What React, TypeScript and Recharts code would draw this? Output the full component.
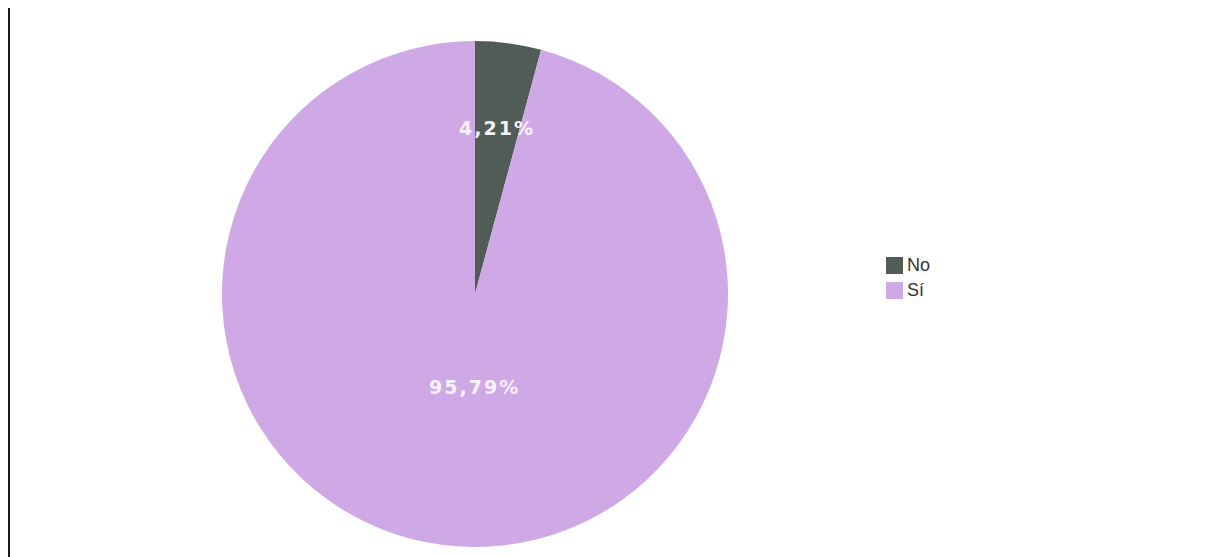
import { PieChart, Pie, Cell, Legend } from "recharts";

const categories = ["No", "Sí"];
const values = [4.21, 95.79];
const labels = ["4,21%", "95,79%"];

const COLORS = ["#525c57", "#cfa8e6"];
// how far out each percentage label sits, as a share of the radius, plus a small x nudge
const LABEL_RADIUS = [0.66, 0.37];
const LABEL_DX = [0, 12];

const data = categories.map((name, i) => ({ name, value: values[i], label: labels[i] }));

const RADIAN = Math.PI / 180;

function renderLabel(props: any) {
  const { cx, cy, midAngle, outerRadius, index } = props;
  const r = outerRadius * LABEL_RADIUS[index];
  const x = cx + r * Math.cos(-midAngle * RADIAN) + LABEL_DX[index];
  const y = cy + r * Math.sin(-midAngle * RADIAN);
  return (
    <text
      x={x}
      y={y}
      fill="#f7f2fa"
      textAnchor="middle"
      dominantBaseline="central"
      style={{
        fontFamily: "DejaVu Sans, Verdana, sans-serif",
        fontSize: 19,
        fontWeight: "bold",
        letterSpacing: 2,
      }}
    >
      {labels[index]}
    </text>
  );
}

function LegendBox() {
  return (
    <div style={{ fontFamily: "Liberation Sans, Arial, sans-serif", fontSize: 18, color: "#333" }}>
      {data.map((d, i) => (
        <div key={d.name} style={{ display: "flex", alignItems: "center", height: 25 }}>
          <span
            style={{
              display: "inline-block",
              width: 17,
              height: 17,
              background: COLORS[i],
              marginRight: 4,
            }}
          />
          <span>{d.name}</span>
        </div>
      ))}
    </div>
  );
}

export default function App() {
  return (
    <div
      style={{
        position: "relative",
        width: 1206,
        height: 557,
        margin: "-8px 0 0 -8px",
        background: "#fff",
        overflow: "hidden",
      }}
    >
      <div
        style={{
          position: "absolute",
          left: 8,
          top: 0,
          width: 2,
          height: 557,
          background: "#1a1a1a",
        }}
      />
      <PieChart width={1206} height={557}>
        <Pie
          data={data}
          dataKey="value"
          nameKey="name"
          cx={470}
          cy={289}
          outerRadius={253}
          startAngle={90}
          endAngle={-270}
          stroke="none"
          labelLine={false}
          label={renderLabel}
          isAnimationActive={false}
        >
          {data.map((d, i) => (
            <Cell key={d.name} fill={COLORS[i]} />
          ))}
        </Pie>
        <Legend
          content={<LegendBox />}
          wrapperStyle={{ left: 886, top: 253, width: 80 }}
        />
      </PieChart>
    </div>
  );
}
